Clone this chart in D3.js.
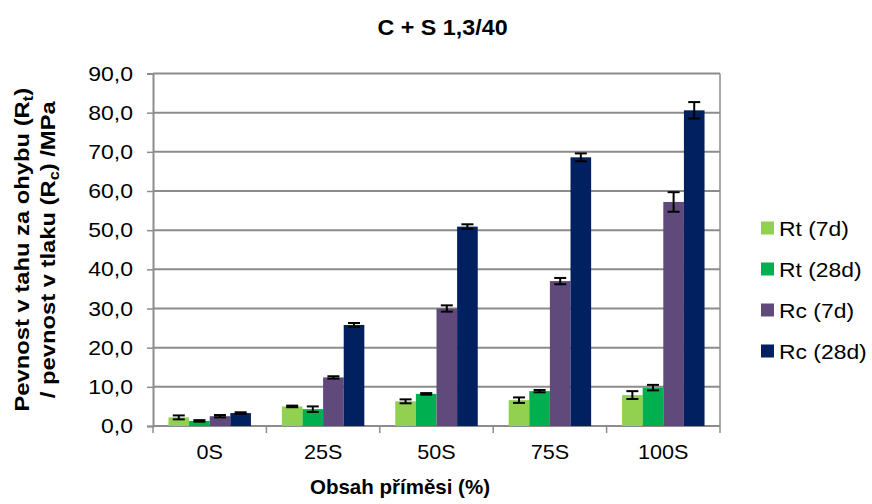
<!DOCTYPE html>
<html>
<head>
<meta charset="utf-8">
<script src="https://cdn.jsdelivr.net/npm/d3@7/dist/d3.min.js"></script>
<style>
  html, body { margin: 0; padding: 0; background: #fff; }
  svg { display: block; font-family: "Liberation Sans", Arial, sans-serif; }
</style>
</head>
<body>
<svg id="chart" width="872" height="504"></svg>
<script>
// Categories (admixture content) and series
const categories = ["0S", "25S", "50S", "75S", "100S"];
const seriesNames = ["Rt (7d)", "Rt (28d)", "Rc (7d)", "Rc (28d)"];
const seriesColors = ["#92D050", "#00B050", "#604A7B", "#002060"];

// Mean strengths [MPa]
const rt7  = [2.2, 5.0, 6.3, 6.6, 7.9];
const rt28 = [1.3, 4.3, 8.2, 8.9, 9.8];
const rc7  = [2.5, 12.4, 30.0, 37.0, 57.2];
const rc28 = [3.3, 25.8, 50.9, 68.6, 80.6];

// Error bar half-widths [MPa]
const rt7Err  = [0.5, 0.2, 0.5, 0.7, 1.0];
const rt28Err = [0.2, 0.7, 0.2, 0.3, 0.7];
const rc7Err  = [0.3, 0.3, 0.8, 0.8, 2.5];
const rc28Err = [0.2, 0.5, 0.6, 1.0, 2.1];

const yTicks = [0, 10, 20, 30, 40, 50, 60, 70, 80, 90];

const values = [rt7, rt28, rc7, rc28];
const errors = [rt7Err, rt28Err, rc7Err, rc28Err];

const svg = d3.select("#chart");
const plot = { left: 153, right: 720, top: 73.5, bottom: 426 };
const gridColor = "#8c8c8c";

const x0 = d3.scaleBand().domain(categories).range([plot.left, plot.right]).padding(0);
const x1 = d3.scaleBand().domain(d3.range(seriesNames.length))
  .range([0, x0.bandwidth()]).paddingInner(0).paddingOuter(0.75);
const y = d3.scaleLinear().domain([0, 90]).range([plot.bottom, plot.top]);

const fmt = v => d3.format(".1f")(v).replace(".", ",");

// Text with a slightly widened face: the group carries position and horizontal stretch
function wideText(parent, x, yPos, sx, txt, opts = {}) {
  const g = parent.append("g").attr("transform", `translate(${x},${yPos}) scale(${sx},1)`);
  const t = g.append("text").attr("x", 0).attr("y", 0)
    .attr("text-anchor", opts.anchor || "start")
    .attr("font-size", opts.size || 20)
    .attr("font-weight", opts.weight || "normal")
    .attr("fill", "#000")
    .text(txt);
  return t;
}

// Horizontal gridlines
svg.append("g").selectAll("line").data(yTicks.filter(t => t > 0)).join("line")
  .attr("x1", plot.left).attr("x2", plot.right)
  .attr("y1", d => y(d)).attr("y2", d => y(d))
  .attr("stroke", gridColor).attr("stroke-width", 2);

// Right border of the plot area
svg.append("line")
  .attr("x1", plot.right).attr("x2", plot.right)
  .attr("y1", plot.top).attr("y2", plot.bottom)
  .attr("stroke", gridColor).attr("stroke-width", 1.5);

// Y axis (ticks from d3, labels drawn widened)
const yAxis = d3.axisLeft(y).tickValues(yTicks).tickFormat("").tickSize(6);
const gy = svg.append("g").attr("transform", `translate(${plot.left},0)`).call(yAxis);
gy.select(".domain").attr("stroke", gridColor).attr("stroke-width", 2);
gy.selectAll(".tick line").attr("stroke", gridColor).attr("stroke-width", 1.5);
const yLabels = svg.append("g");
yTicks.forEach(t => wideText(yLabels, plot.left - 20, y(t) + 7, 1.15, fmt(t), { anchor: "end", size: 20 }));

// X axis: ticks between categories, labels centred in each band
const gx = svg.append("g").attr("transform", `translate(0,${plot.bottom})`);
gx.append("line").attr("x1", plot.left).attr("x2", plot.right)
  .attr("stroke", gridColor).attr("stroke-width", 2);
const bounds = categories.map(c => x0(c)).concat([plot.right]);
gx.selectAll("line.tk").data(bounds).join("line").attr("class", "tk")
  .attr("x1", d => d).attr("x2", d => d).attr("y1", 0).attr("y2", 7)
  .attr("stroke", gridColor).attr("stroke-width", 1.5);
categories.forEach(c => wideText(gx, x0(c) + x0.bandwidth() / 2, 33, 1.08, c, { anchor: "middle", size: 20 }));

// Bars
const groups = svg.append("g").selectAll("g").data(categories).join("g")
  .attr("transform", d => `translate(${x0(d)},0)`);
groups.selectAll("rect").data((c, ci) => values.map((s, si) => ({ si, v: s[ci], e: errors[si][ci] })))
  .join("rect")
  .attr("x", d => x1(d.si)).attr("width", x1.bandwidth())
  .attr("y", d => y(d.v)).attr("height", d => y(0) - y(d.v))
  .attr("fill", d => seriesColors[d.si]);

// Error bars
const capHalf = 6;
const eb = groups.selectAll("g.err").data((c, ci) => values.map((s, si) => ({ si, v: s[ci], e: errors[si][ci] })))
  .join("g").attr("class", "err")
  .attr("transform", d => `translate(${x1(d.si) + x1.bandwidth() / 2},0)`)
  .attr("stroke", "#000").attr("stroke-width", 2);
eb.append("line").attr("y1", d => y(d.v + d.e)).attr("y2", d => y(d.v - d.e));
eb.append("line").attr("x1", -capHalf).attr("x2", capHalf)
  .attr("y1", d => y(d.v + d.e)).attr("y2", d => y(d.v + d.e));
eb.append("line").attr("x1", -capHalf).attr("x2", capHalf)
  .attr("y1", d => y(d.v - d.e)).attr("y2", d => y(d.v - d.e));

// Title
wideText(svg, 442.5, 35, 1.06, "C + S 1,3/40", { anchor: "middle", size: 22, weight: "bold" });

// X axis title
wideText(svg, 400, 494, 1.0, "Obsah příměsi (%)", { anchor: "middle", size: 20.5, weight: "bold" });

// Y axis title (two lines, rotated and widened along the text)
const yMid = (plot.top + plot.bottom) / 2;
const yTitle = svg.append("g").attr("transform", `translate(0,${yMid}) rotate(-90) scale(1.16,1)`)
  .append("text")
  .attr("text-anchor", "middle").attr("font-size", 20.5).attr("font-weight", "bold").attr("fill", "#000");
const l1 = yTitle.append("tspan").attr("x", 0).attr("y", 29);
l1.append("tspan").text("Pevnost v tahu za ohybu (R");
l1.append("tspan").attr("font-size", 14).attr("dy", 4).text("t");
l1.append("tspan").attr("dy", -4).text(")");
const l2 = yTitle.append("tspan").attr("x", 0).attr("y", 55);
l2.append("tspan").text("/ pevnost v tlaku (R");
l2.append("tspan").attr("font-size", 14).attr("dy", 4).text("c");
l2.append("tspan").attr("dy", -4).text(") /MPa");

// Legend
const legend = svg.append("g");
seriesNames.forEach((name, i) => {
  const cy = 228 + i * 41;
  legend.append("rect").attr("x", 761).attr("y", cy - 6.5).attr("width", 13).attr("height", 13)
    .attr("fill", seriesColors[i]);
  wideText(legend, 779, cy + 7.5, 1.09, name, { size: 21 });
});
</script>
</body>
</html>
